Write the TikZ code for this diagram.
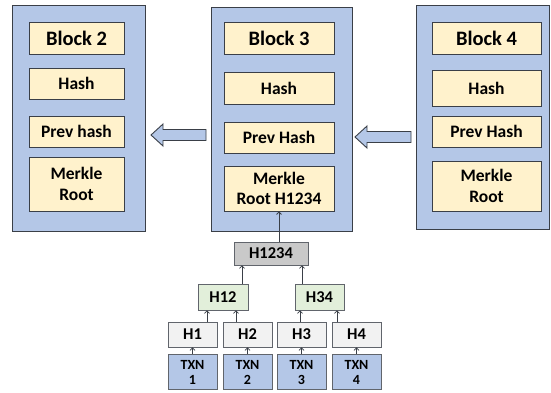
\documentclass[tikz,border=0pt]{standalone}
\usepackage{fontspec}
\setmainfont{Carlito}
\usetikzlibrary{arrows.meta}
\definecolor{blockblue}{HTML}{B4C7E7}
\definecolor{cream}{HTML}{FFF2CC}
\definecolor{darkline}{HTML}{3A3F47}
\definecolor{hgray}{HTML}{F2F2F2}
\definecolor{hroot}{HTML}{C9C9C9}
\definecolor{hgreen}{HTML}{E2EFDA}
\begin{document}
\begin{tikzpicture}[x=1pt,y=-1pt,
  outerblock/.style={draw=darkline, fill=blockblue, line width=1pt, inner sep=0pt},
  field/.style={draw=darkline, fill=cream, line width=0.8pt, inner sep=0pt, align=center,
     font=\fontsize{17.5}{20.5}\selectfont\bfseries},
  titlefield/.style={field, font=\fontsize{20.5}{22}\selectfont\bfseries},
  tbox/.style={draw=darkline!80, line width=0.7pt, inner sep=0pt, align=center,
     font=\fontsize{16.5}{17}\selectfont\bfseries},
  txbox/.style={tbox, fill=blockblue, font=\fontsize{14}{15}\selectfont\bfseries},
  tarrow/.style={draw=darkline, line width=0.8pt, -{Straight Barb[length=2.5pt,width=5pt]}},
  bigarrow/.style={draw=darkline, fill=blockblue, line width=0.9pt, line join=miter}
]
\useasboundingbox (0,0) rectangle (551,392);
\fill[white] (0,0) rectangle (551,392);

% Block 2
\node[outerblock, minimum width=133, minimum height=226] (b2) at (78.5,118) {};
\node[titlefield, minimum width=95, minimum height=32] (b2t) at (76.5,38) {Block 2};
\node[field, minimum width=95, minimum height=31] (b2h) at (76.5,83.5) {Hash};
\node[field, minimum width=95, minimum height=31] (b2p) at (76.5,131.5) {Prev hash};
\node[field, minimum width=95, minimum height=54] (b2m) at (76.5,184) {Merkle\\Root};

% Block 3
\node[outerblock, minimum width=141, minimum height=224] (b3) at (281.5,119) {};
\node[titlefield, minimum width=110, minimum height=32] (b3t) at (279,38) {Block 3};
\node[field, minimum width=110, minimum height=32] (b3h) at (279,88) {Hash};
\node[field, minimum width=110, minimum height=31] (b3p) at (279,137.5) {Prev Hash};
\node[field, minimum width=110, minimum height=45] (b3m) at (279,188.5) {Merkle\\Root H1234};

% Block 4
\node[outerblock, minimum width=133, minimum height=224] (b4) at (482.5,117) {};
\node[titlefield, minimum width=109, minimum height=32] (b4t) at (486.5,38) {Block 4};
\node[field, minimum width=109, minimum height=36] (b4h) at (486.5,88) {Hash};
\node[field, minimum width=109, minimum height=31] (b4p) at (486.5,131.5) {Prev Hash};
\node[field, minimum width=109, minimum height=50] (b4m) at (486.5,186) {Merkle\\Root};

% Block arrows
\draw[bigarrow] (151,135) -- (163,124) -- (163,129.5) -- (206,129.5) -- (206,140.5) -- (163,140.5) -- (163,146) -- cycle;
\draw[bigarrow] (355,137) -- (367,126) -- (367,131.5) -- (411,131.5) -- (411,142.5) -- (367,142.5) -- (367,148) -- cycle;

% Merkle tree
\node[tbox, fill=hroot, minimum width=74, minimum height=23] (h1234) at (271,253.5) {H1234};
\node[tbox, fill=hgreen, minimum width=50, minimum height=26] (h12) at (223,297) {H12};
\node[tbox, fill=hgreen, minimum width=49, minimum height=26] (h34) at (319.5,297) {H34};
\node[tbox, fill=hgray, minimum width=49, minimum height=25] (h1) at (192.5,334.5) {H1};
\node[tbox, fill=hgray, minimum width=49, minimum height=25] (h2) at (247.5,334.5) {H2};
\node[tbox, fill=hgray, minimum width=49, minimum height=25] (h3) at (301.5,334.5) {H3};
\node[tbox, fill=hgray, minimum width=49, minimum height=25] (h4) at (356.5,334.5) {H4};
\node[txbox, minimum width=49, minimum height=35] (t1) at (192.5,372) {TXN\\1};
\node[txbox, minimum width=49, minimum height=35] (t2) at (247.5,372) {TXN\\2};
\node[txbox, minimum width=49, minimum height=35] (t3) at (301.5,372) {TXN\\3};
\node[txbox, minimum width=49, minimum height=35] (t4) at (356.5,372) {TXN\\4};

\draw[tarrow] (t1.north) -- (h1.south);
\draw[tarrow] (t2.north) -- (h2.south);
\draw[tarrow] (t3.north) -- (h3.south);
\draw[tarrow] (t4.north) -- (h4.south);
\draw[tarrow] ([xshift=14.5]h1.north) -- ([xshift=14.5]h1.north |- h12.south);
\draw[tarrow] ([xshift=-11.5]h2.north) -- ([xshift=-11.5]h2.north |- h12.south);
\draw[tarrow] ([xshift=-1.5]h3.north) -- ([xshift=-1.5]h3.north |- h34.south);
\draw[tarrow] ([xshift=-19.5]h4.north) -- ([xshift=-19.5]h4.north |- h34.south);
\draw[tarrow] ([xshift=19]h12.north) -- ([xshift=19]h12.north |- h1234.south);
\draw[tarrow] ([xshift=-17.5]h34.north) -- ([xshift=-17.5]h34.north |- h1234.south);
\draw[tarrow] (h1234.north -| b3m.south) -- (b3m.south);
\end{tikzpicture}
\end{document}
